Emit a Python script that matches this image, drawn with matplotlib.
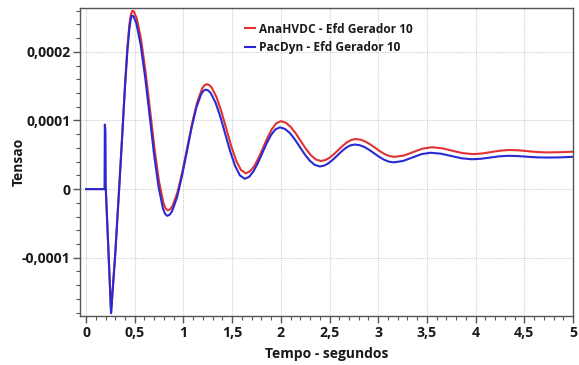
import matplotlib
matplotlib.use("Agg")
import matplotlib.pyplot as plt
from matplotlib.ticker import MultipleLocator, FuncFormatter

plt.rcParams['font.family'] = ['Open Sans', 'DejaVu Sans']

# Time (s) and field voltage (x1e-4) for each simulation
t_ana = [0, 0.19, 0.203, 0.257, 0.30, 0.34, 0.37, 0.40, 0.425, 0.445, 0.46, 0.475, 0.49,
         0.521, 0.566, 0.612, 0.658, 0.703, 0.749, 0.794, 0.817, 0.84, 0.865,
         0.89, 0.94, 0.99, 1.04, 1.09, 1.14, 1.19, 1.215, 1.24, 1.265,
         1.29, 1.34, 1.39, 1.44, 1.49, 1.54, 1.59, 1.64,
         1.685, 1.73, 1.775, 1.82, 1.865, 1.91, 1.955, 2.00,
         2.051, 2.103, 2.154, 2.205, 2.256, 2.308, 2.359, 2.41,
         2.455, 2.50, 2.545, 2.59, 2.635, 2.68, 2.725, 2.77,
         2.82, 2.87, 2.92, 2.97, 3.02, 3.07, 3.12, 3.17,
         3.265, 3.36, 3.455, 3.55, 3.655, 3.76, 3.865, 3.97,
         4.065, 4.16, 4.255, 4.35, 4.445, 4.54, 4.635, 4.73, 4.87, 5.0]
efd_ana = [0, 0, 0.0, -1.80, -0.93, 0.02, 0.75, 1.52, 2.07, 2.40, 2.54, 2.60, 2.59,
           2.489, 2.174, 1.702, 1.145, 0.588, 0.116, -0.199, -0.282, -0.31, -0.292,
           -0.240, -0.041, 0.258, 0.61, 0.962, 1.261, 1.460, 1.512, 1.53, 1.517,
           1.480, 1.340, 1.129, 0.88, 0.631, 0.420, 0.280, 0.23,
           0.259, 0.341, 0.465, 0.61, 0.755, 0.879, 0.961, 0.99,
           0.968, 0.905, 0.811, 0.70, 0.589, 0.495, 0.432, 0.41,
           0.422, 0.457, 0.509, 0.57, 0.631, 0.683, 0.718, 0.73,
           0.720, 0.692, 0.650, 0.60, 0.550, 0.508, 0.480, 0.47,
           0.49, 0.54, 0.59, 0.61, 0.595, 0.56, 0.525, 0.51,
           0.519, 0.54, 0.561, 0.57, 0.565, 0.552, 0.54, 0.535, 0.538, 0.545]

t_pac = [0, 0.19, 0.193, 0.199, 0.203, 0.257, 0.30, 0.34, 0.37, 0.40, 0.425,
         0.445, 0.458, 0.47, 0.487,
         0.516, 0.561, 0.607, 0.653, 0.698, 0.744, 0.789, 0.812, 0.835, 0.86,
         0.884, 0.934, 0.983, 1.033, 1.082, 1.131, 1.181, 1.205, 1.23, 1.255,
         1.28, 1.33, 1.38, 1.43, 1.48, 1.53, 1.58, 1.63,
         1.675, 1.72, 1.765, 1.81, 1.855, 1.90, 1.945, 1.99,
         2.041, 2.093, 2.144, 2.195, 2.246, 2.298, 2.349, 2.40,
         2.445, 2.49, 2.535, 2.58, 2.625, 2.67, 2.715, 2.76,
         2.81, 2.86, 2.91, 2.96, 3.01, 3.06, 3.11, 3.16,
         3.255, 3.35, 3.445, 3.54, 3.645, 3.75, 3.855, 3.96,
         4.055, 4.15, 4.245, 4.34, 4.435, 4.53, 4.625, 4.72, 4.86, 5.0]
efd_pac = [0, 0, 0.94, 0.85, 0.0, -1.81, -0.95, 0.0, 0.74, 1.49, 2.02,
           2.34, 2.47, 2.53, 2.52,
           2.419, 2.103, 1.629, 1.07, 0.511, 0.037, -0.279, -0.362, -0.39, -0.372,
           -0.320, -0.121, 0.178, 0.53, 0.882, 1.181, 1.380, 1.432, 1.45, 1.437,
           1.400, 1.260, 1.049, 0.80, 0.551, 0.340, 0.200, 0.15,
           0.179, 0.260, 0.382, 0.525, 0.668, 0.790, 0.871, 0.90,
           0.878, 0.817, 0.724, 0.615, 0.506, 0.413, 0.352, 0.33,
           0.342, 0.377, 0.429, 0.49, 0.551, 0.603, 0.638, 0.65,
           0.640, 0.612, 0.570, 0.52, 0.470, 0.428, 0.400, 0.39,
           0.41, 0.46, 0.51, 0.53, 0.516, 0.4825, 0.449, 0.435,
           0.442, 0.46, 0.478, 0.485, 0.481, 0.472, 0.463, 0.46, 0.462, 0.47]

labels = ["AnaHVDC - Efd Gerador 10", "PacDyn - Efd Gerador 10"]
colors = ["#e03232", "#2a2ad2"]
scale = 1e-4

fig = plt.figure(figsize=(5.79, 3.65), dpi=100)
ax = fig.add_axes([80 / 579, 1 - 316 / 365, (573 - 80) / 579, (316 - 8) / 365])

ax.plot(t_ana, [v * scale for v in efd_ana], color=colors[0], lw=1.5,
        solid_joinstyle="round", label=labels[0])
ax.plot(t_pac, [v * scale for v in efd_pac], color=colors[1], lw=1.5,
        solid_joinstyle="round", label=labels[1])

ax.set_xlim(-0.062, 5.0)
ax.set_ylim(-0.000185, 0.000264)

ax.xaxis.set_major_locator(MultipleLocator(0.5))
ax.xaxis.set_minor_locator(MultipleLocator(0.1))
ax.yaxis.set_major_locator(MultipleLocator(0.0001))
ax.yaxis.set_minor_locator(MultipleLocator(0.00002))


def fmt_x(v, pos):
    return f"{v:g}".replace(".", ",")


def fmt_y(v, pos):
    if abs(v) < 1e-12:
        return "0"
    return f"{v:.4f}".replace(".", ",")


ax.xaxis.set_major_formatter(FuncFormatter(fmt_x))
ax.yaxis.set_major_formatter(FuncFormatter(fmt_y))

ax.grid(True, which="major", color="#cfcfcf", linestyle=(0, (1, 1)), lw=0.8)
ax.set_axisbelow(True)

for side in ["left", "bottom", "top", "right"]:
    ax.spines[side].set_color("#555555")
    ax.spines[side].set_linewidth(1.0)

ax.tick_params(which="major", direction="out", length=5, width=1, color="#555555",
               labelsize=10.2, pad=2)
ax.tick_params(which="minor", direction="out", length=3, width=0.8, color="#555555")
ax.tick_params(top=False, right=False, which="both")
for lab in ax.get_xticklabels() + ax.get_yticklabels():
    lab.set_fontweight("bold")
    lab.set_color("#1a1a1a")

ax.set_xlabel("Tempo - segundos", fontsize=10, fontweight="bold", color="#1a1a1a")
ax.set_ylabel("Tensao", fontsize=10, fontweight="bold", color="#1a1a1a")
ax.xaxis.set_label_coords(0.5, -0.10)
ax.yaxis.set_label_coords(-0.11, 0.5)

leg = ax.legend(loc="upper left", bbox_to_anchor=(0.324, 0.968), frameon=False,
                handlelength=0.9, handletextpad=0.3, labelspacing=0.45,
                borderaxespad=0, prop={"weight": "bold", "size": 8.6})
for txt in leg.get_texts():
    txt.set_color("#1a1a1a")

fig.savefig("out.png", dpi=100)
